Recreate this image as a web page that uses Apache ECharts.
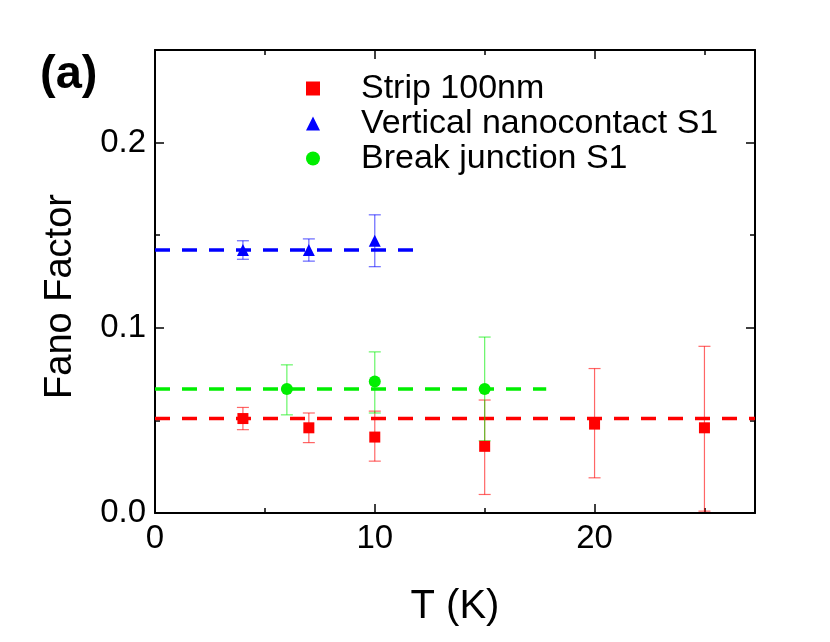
<!DOCTYPE html>
<html>
<head>
<meta charset="utf-8">
<script src="https://cdn.jsdelivr.net/npm/echarts@6/dist/echarts.min.js"></script>
<style>
  html, body { margin: 0; padding: 0; background: #fff; }
  #chart { width: 830px; height: 642px; }
</style>
</head>
<body>
<div id="chart"></div>
<script>
// Strip 100nm
const tStrip = [4, 7, 10, 15, 20, 25]
const fStrip = [0.051, 0.046, 0.041, 0.036, 0.048, 0.046]
const loStrip = [0.045, 0.038, 0.028, 0.010, 0.019, 0.001]
const hiStrip = [0.057, 0.054, 0.055, 0.061, 0.078, 0.090]
// Vertical nanocontact S1
const tVert = [4, 7, 10]
const fVert = [0.142, 0.142, 0.147]
const loVert = [0.137, 0.136, 0.133]
const hiVert = [0.147, 0.148, 0.161]
// Break junction S1
const tBreak = [6, 10, 15]
const fBreak = [0.067, 0.071, 0.067]
const loBreak = [0.053, 0.054, 0.039]
const hiBreak = [0.080, 0.087, 0.095]
// dashed mean lines: [y, x end]
const fitStrip = [0.051, 27.3]
const fitVert = [0.142, 12.0]
const fitBreak = [0.067, 17.8]

const xMin = 0, xMax = 27.3, yMin = 0, yMax = 0.25
const font = 'Liberation Sans, Arial, sans-serif'
const RED = '#ff0000', BLUE = '#0000ff', GREEN = '#00ee00'

function pts(xs, ys) { return xs.map((x, i) => [x, ys[i]]) }
function bars(xs, lo, hi) { return xs.map((x, i) => [x, lo[i], hi[i]]) }

function errSeries(data, color) {
  return {
    type: 'custom',
    data: data,
    silent: true,
    z: 3,
    encode: { x: 0, y: [1, 2] },
    renderItem: function(params, api) {
      const x = api.value(0)
      const a = api.coord([x, api.value(1)])
      const b = api.coord([x, api.value(2)])
      const w = 6
      const st = { stroke: color, lineWidth: 1.2, opacity: 0.6 }
      return {
        type: 'group',
        children: [
          { type: 'line', shape: { x1: a[0], y1: a[1], x2: b[0], y2: b[1] }, style: st },
          { type: 'line', shape: { x1: a[0] - w, y1: a[1], x2: a[0] + w, y2: a[1] }, style: st },
          { type: 'line', shape: { x1: b[0] - w, y1: b[1], x2: b[0] + w, y2: b[1] }, style: st }
        ]
      }
    }
  }
}

function fitSeries(fit, color) {
  return {
    type: 'line',
    data: [[0, fit[0]], [fit[1], fit[0]]],
    symbol: 'none',
    silent: true,
    z: 2,
    lineStyle: { color: color, width: 3.5, type: [15, 12] }
  }
}

function scatter(name, data, symbol, size, color) {
  return {
    name: name,
    type: 'scatter',
    data: data,
    symbol: symbol,
    symbolSize: size,
    z: 5,
    itemStyle: { color: color, opacity: 1 }
  }
}

const axisBase = {
  min: xMin,
  max: xMax,
  interval: 10,
  axisLine: { onZero: false, lineStyle: { color: '#000', width: 2 } },
  axisTick: { inside: true, length: 9, lineStyle: { color: '#000', width: 1.5 } },
  minorTick: { show: true, splitNumber: 2, length: 5, lineStyle: { color: '#000', width: 1.5 } },
  splitLine: { show: false }
}

const chart = echarts.init(document.getElementById('chart'))
chart.setOption({
  animation: false,
  backgroundColor: '#fff',
  grid: { left: 155, right: 75, top: 50, bottom: 129 },
  title: {
    text: '(a)',
    left: 35,
    top: 47,
    textStyle: { fontFamily: font, fontSize: 47, fontWeight: 'bold', color: '#000' }
  },
  legend: {
    orient: 'vertical',
    left: 301,
    top: 66,
    itemWidth: 14,
    itemHeight: 14,
    itemGap: 0,
    textStyle: { fontFamily: font, fontSize: 34, color: '#000', lineHeight: 35, padding: [0, 0, 0, 36] },
    data: ['Strip 100nm', 'Vertical nanocontact S1', 'Break junction S1']
  },
  xAxis: [
    Object.assign({}, axisBase, {
      type: 'value',
      position: 'bottom',
      name: 'T (K)',
      nameLocation: 'middle',
      nameGap: 74,
      nameTextStyle: { fontFamily: font, fontSize: 40, color: '#000' },
      axisLabel: { fontFamily: font, fontSize: 33, color: '#000', margin: 9, showMaxLabel: false }
    }),
    Object.assign({}, axisBase, {
      type: 'value',
      position: 'top',
      axisLabel: { show: false }
    })
  ],
  yAxis: [
    Object.assign({}, axisBase, {
      type: 'value',
      min: yMin,
      max: yMax,
      interval: 0.1,
      position: 'left',
      name: 'Fano Factor',
      nameLocation: 'middle',
      nameGap: 75,
      nameTextStyle: { fontFamily: font, fontSize: 38, color: '#000', padding: [0, 30, 0, 0] },
      axisLabel: {
        fontFamily: font, fontSize: 33, color: '#000', margin: 9, showMaxLabel: false,
        formatter: v => v.toFixed(1)
      }
    }),
    Object.assign({}, axisBase, {
      type: 'value',
      min: yMin,
      max: yMax,
      interval: 0.1,
      position: 'right',
      axisLabel: { show: false }
    })
  ],
  series: [
    fitSeries(fitStrip, RED),
    fitSeries(fitBreak, GREEN),
    fitSeries(fitVert, BLUE),
    errSeries(bars(tStrip, loStrip, hiStrip), RED),
    errSeries(bars(tBreak, loBreak, hiBreak), GREEN),
    errSeries(bars(tVert, loVert, hiVert), BLUE),
    scatter('Strip 100nm', pts(tStrip, fStrip), 'rect', 11, RED),
    scatter('Vertical nanocontact S1', pts(tVert, fVert), 'triangle', 12, BLUE),
    scatter('Break junction S1', pts(tBreak, fBreak), 'circle', 12, GREEN)
  ]
})
</script>
</body>
</html>
